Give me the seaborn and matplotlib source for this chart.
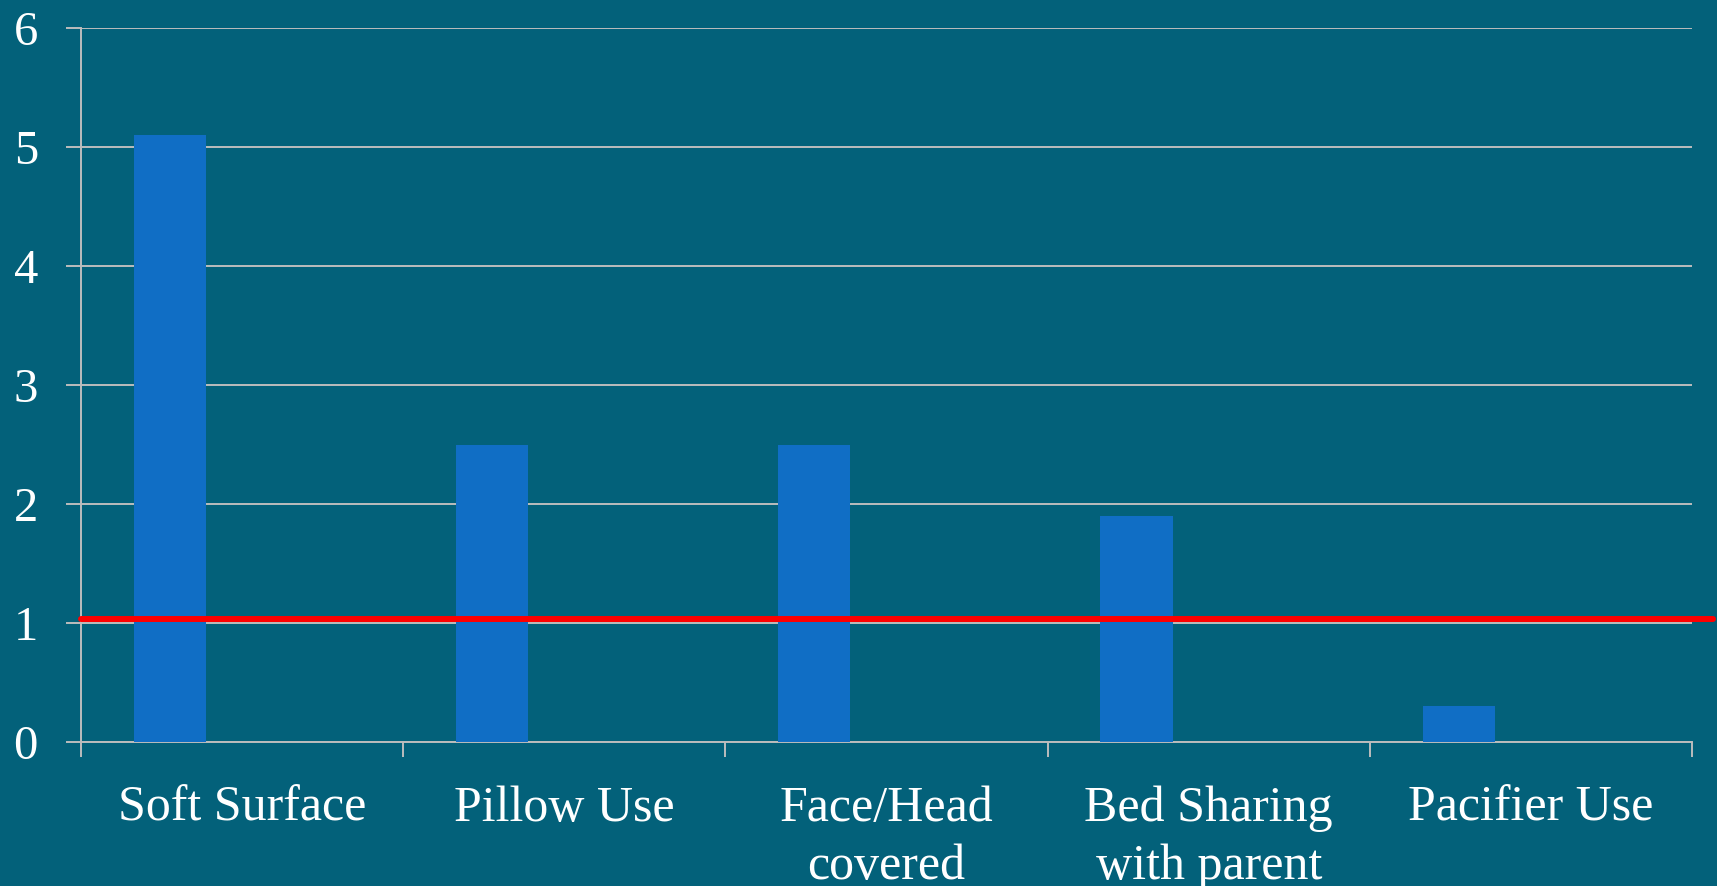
import numpy as np
import pandas as pd
import matplotlib
matplotlib.use("Agg")
import matplotlib.pyplot as plt
import seaborn as sns

# Risk factors and their odds ratios
categories = ["Soft Surface", "Pillow Use", "Face/Head\ncovered", "Bed Sharing\nwith parent", "Pacifier Use"]
odds_ratio = [5.1, 2.5, 2.5, 1.9, 0.3]
series_names = ["Odds ratio", "Series 2", "Series 3"]
reference_level = 1.03
y_ticks = [0, 1, 2, 3, 4, 5, 6]

BG = "#03617A"
BAR = "#106EC5"
GRID = "#BDBDBD"

sns.set_style("white", {"axes.facecolor": BG, "figure.facecolor": BG})
plt.rcParams["font.family"] = ["Liberation Serif", "DejaVu Serif"]

rows = []
for cat, val in zip(categories, odds_ratio):
    rows.append({"category": cat, "series": series_names[0], "value": val})
    for s in series_names[1:]:
        rows.append({"category": cat, "series": s, "value": np.nan})
df = pd.DataFrame(rows)

fig = plt.figure(figsize=(17.17, 8.86), dpi=100)
ax = fig.add_axes([81 / 1717, 1 - 742 / 886, (1692 - 81) / 1717, (742 - 28) / 886])
ax.set_facecolor(BG)

sns.barplot(
    data=df, x="category", y="value", hue="series",
    order=categories, hue_order=series_names,
    palette=[BAR, BAR, BAR], width=0.672, legend=False,
    errorbar=None, saturation=1, ax=ax, zorder=3,
    linewidth=0, edgecolor="none",
)

ax.set_ylim(0, 6)
ax.set_xlim(-0.5, len(categories) - 0.5)
ax.set_yticks(y_ticks, labels=[str(t) for t in y_ticks])
ax.yaxis.grid(True, color=GRID, linewidth=1.4, zorder=0)
ax.set_axisbelow(True)

# category boundaries as ticks, labels in the middle
ax.set_xticks(np.arange(-0.5, len(categories)), labels=[])
ax.set_xticks(np.arange(len(categories)), labels=categories, minor=True)
ax.tick_params(axis="x", which="major", bottom=True, length=11, width=1.4, color=GRID, direction="out")
ax.tick_params(axis="x", which="minor", bottom=True, length=0, pad=31, labelsize=36, labelcolor="white")
ax.tick_params(axis="y", left=True, length=11, width=1.4, color=GRID, pad=20, labelsize=35, labelcolor="white")
for lbl in ax.get_xticklabels(minor=True):
    lbl.set_linespacing(1.35)

ax.set_xlabel("")
ax.set_ylabel("")
for side in ["top", "right"]:
    ax.spines[side].set_visible(False)
for side in ["left", "bottom"]:
    ax.spines[side].set_color(GRID)
    ax.spines[side].set_linewidth(1.4)

# reference line at odds ratio ~1
ax.axhline(reference_level, xmin=0, xmax=(1713 - 81) / (1692 - 81), color="#FF0000",
           linewidth=4.3, zorder=5, clip_on=False)

fig.savefig("out.png", dpi=100, facecolor=BG)
